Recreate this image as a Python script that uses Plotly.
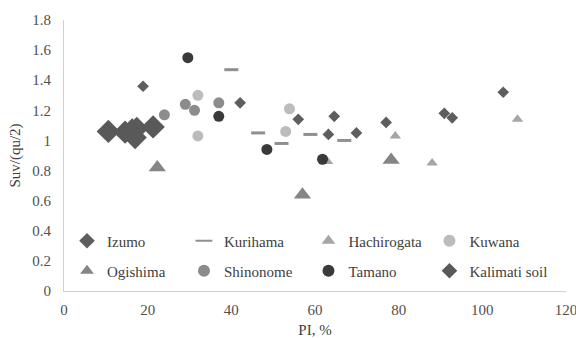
import plotly.graph_objects as go

izumo_x = [18.9, 42.1, 56.0, 64.6, 63.2, 69.9, 77.0, 90.9, 92.8, 105.0]
izumo_y = [1.36, 1.25, 1.14, 1.16, 1.04, 1.05, 1.12, 1.18, 1.15, 1.32]

kurihama_x = [40.0, 46.4, 52.0, 58.9, 67.0]
kurihama_y = [1.47, 1.05, 0.98, 1.04, 1.00]

hachirogata_x = [63.0, 79.2, 88.0, 108.4]
hachirogata_y = [0.86, 1.03, 0.85, 1.14]

kuwana_x = [32.0, 32.0, 53.9, 53.0]
kuwana_y = [1.30, 1.03, 1.21, 1.06]

ogishima_x = [22.3, 57.0, 78.2]
ogishima_y = [0.82, 0.64, 0.87]

shinonome_x = [24.0, 29.0, 31.2, 37.0]
shinonome_y = [1.17, 1.24, 1.20, 1.25]

tamano_x = [29.6, 37.0, 48.5, 61.8]
tamano_y = [1.55, 1.16, 0.94, 0.875]

kalimati_x = [10.6, 14.6, 16.3, 17.4, 17.0, 21.3]
kalimati_y = [1.06, 1.055, 1.07, 1.08, 1.02, 1.09]

FONT = "Times New Roman, Liberation Serif, DejaVu Serif, serif"

series = [
    ("Izumo", izumo_x, izumo_y, dict(symbol="diamond", size=9, color="#5e5e5e")),
    ("Kurihama", kurihama_x, kurihama_y, dict(symbol="line-ew", size=10, color="#8f8f8f", line=dict(width=3, color="#8f8f8f"))),
    ("Hachirogata", hachirogata_x, hachirogata_y, dict(symbol="triangle-up", size=10, color="#a6a6a6")),
    ("Kuwana", kuwana_x, kuwana_y, dict(symbol="circle", size=11, color="#bcbcbc")),
    ("Ogishima", ogishima_x, ogishima_y, dict(symbol="triangle-up", size=15, color="#858585")),
    ("Shinonome", shinonome_x, shinonome_y, dict(symbol="circle", size=11, color="#8c8c8c")),
    ("Tamano", tamano_x, tamano_y, dict(symbol="circle", size=11, color="#3a3a3a")),
    ("Kalimati soil", kalimati_x, kalimati_y, dict(symbol="diamond", size=18, color="#595959")),
]

# legend slot positions (paper coords): 4 columns x 2 rows
leg_x = [0.006, 0.239, 0.487, 0.728]
leg_y = [0.1845, 0.074]

fig = go.Figure()
layout_legends = {}
for i, (name, xs, ys, mk) in enumerate(series):
    key = "legend" if i == 0 else f"legend{i + 1}"
    fig.add_trace(go.Scatter(x=xs, y=ys, mode="markers", name=name, marker=mk, legend=key))
    layout_legends[key] = dict(
        x=leg_x[i % 4], y=leg_y[i // 4], xanchor="left", yanchor="middle",
        orientation="h", itemsizing="constant", itemwidth=30,
        font=dict(family=FONT, size=15, color="#404040"),
        bgcolor="rgba(0,0,0,0)",
    )

fig.update_layout(
    width=576, height=338,
    margin=dict(l=64, r=10, t=20, b=47),
    paper_bgcolor="white", plot_bgcolor="white",
    font=dict(family=FONT, size=15, color="#404040"),
    showlegend=True,
    xaxis=dict(
        range=[0, 120], dtick=20, showgrid=False, zeroline=False,
        showline=True, linecolor="#d0d0d0", linewidth=1, automargin=False,
        ticks="", ticklabelstandoff=5, ticklabeloverflow="allow",
        tickfont=dict(family=FONT, size=15, color="#505050"),
        title=dict(text="PI, %", font=dict(family=FONT, size=15, color="#404040"), standoff=12),
    ),
    yaxis=dict(
        range=[0, 1.8], dtick=0.2, showgrid=False, zeroline=False,
        showline=True, linecolor="#d0d0d0", linewidth=1, automargin=False,
        ticks="", ticklabelstandoff=9, ticklabeloverflow="allow",
        tickfont=dict(family=FONT, size=15, color="#505050"),
        title=dict(text="Suv/(qu/2)", font=dict(family=FONT, size=15, color="#404040"), standoff=8),
    ),
    **layout_legends,
)

fig.write_html(
    "out.html",
    config={"displayModeBar": False},
    post_script="document.body.style.margin='0';document.body.style.overflow='hidden';",
)
